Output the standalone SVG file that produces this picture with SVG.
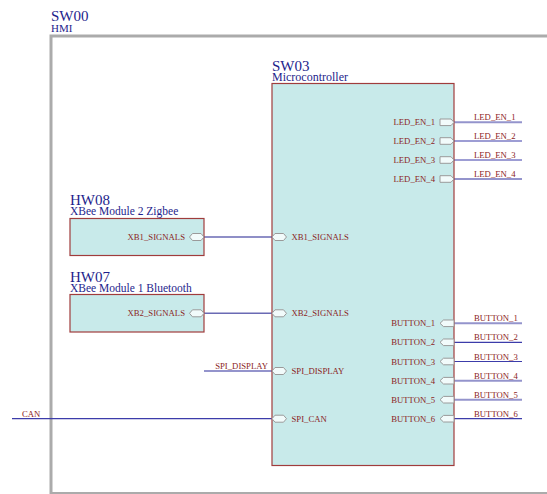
<svg xmlns="http://www.w3.org/2000/svg" width="547" height="494" viewBox="0 0 547 494">
<style>
text{font-family:"Liberation Serif","Times New Roman",serif}
.t{font-size:15px;fill:#1e1e8c}
.st{font-size:11.5px;fill:#1e1e8c}
.p{font-size:8.7px;fill:#8b2323}
.box{fill:#c8eaea;stroke:#a03c3c;stroke-width:1.2}
.port{fill:#f2fbfb;stroke:#9a9a9a;stroke-width:1}
.w{stroke:#3c3caa;stroke-width:1.2;fill:none}
.wl{stroke:#9494cc;stroke-width:2;fill:none}
.wm{stroke:#6a6ab4;stroke-width:1.4;fill:none}
</style>
<defs>
<polygon id="hex" points="0,0 3,-3.5 11.5,-3.5 14.5,0 11.5,3.5 3,3.5" class="port"/>
<polygon id="out" points="0,-3.3 11,-3.3 14,0 11,3.3 0,3.3" class="port"/>
<polygon id="in" points="0,0 3.5,-3.3 14,-3.3 14,3.3 3.5,3.3" class="port"/>
</defs>
<rect width="547" height="494" fill="#ffffff"/>
<g id="SW00">
<rect x="51" y="36" width="520" height="457.5" fill="none" stroke="#ababab" stroke-width="3"/>
<text x="51" y="21" class="t">SW00</text>
<text x="51" y="32.3" class="st" style="font-size:11px">HMI</text>
</g>
<g id="connectors">
<line x1="454" y1="122.3" x2="522" y2="122.3" class="wl"/>
<line x1="454" y1="141" x2="522" y2="141" class="w"/>
<line x1="454" y1="160" x2="522" y2="160" class="w"/>
<line x1="454" y1="179" x2="522" y2="179" class="wl"/>
<line x1="454" y1="323.3" x2="522" y2="323.3" class="wl"/>
<line x1="454" y1="342.3" x2="522" y2="342.3" class="w"/>
<line x1="454" y1="361.5" x2="522" y2="361.5" class="w"/>
<line x1="454" y1="380.7" x2="522" y2="380.7" class="wl"/>
<line x1="454" y1="399.7" x2="522" y2="399.7" class="wl"/>
<line x1="454" y1="418.7" x2="522" y2="418.7" class="w"/>
<line x1="204" y1="237" x2="272" y2="237" class="wm"/>
<line x1="204" y1="313.3" x2="272" y2="313.3" class="wm"/>
<line x1="204" y1="371" x2="272" y2="371" class="wl"/>
<line x1="12" y1="418.7" x2="272" y2="418.7" class="w"/>
<text x="474" y="120" class="p">LED_EN_1</text>
<text x="474" y="139" class="p">LED_EN_2</text>
<text x="474" y="158" class="p">LED_EN_3</text>
<text x="474" y="177" class="p">LED_EN_4</text>
<text x="474" y="321.3" class="p">BUTTON_1</text>
<text x="474" y="340.3" class="p">BUTTON_2</text>
<text x="474" y="359.5" class="p">BUTTON_3</text>
<text x="474" y="378.7" class="p">BUTTON_4</text>
<text x="474" y="397.7" class="p">BUTTON_5</text>
<text x="474" y="416.7" class="p">BUTTON_6</text>
<text x="268" y="369" class="p" text-anchor="end">SPI_DISPLAY</text>
<text x="22" y="416.7" class="p">CAN</text>
</g>
<g id="SW03">
<rect x="272" y="83.5" width="182" height="382" class="box"/>
<text x="272" y="70.5" class="t">SW03</text>
<text x="272" y="80.5" class="st" style="font-size:12px">Microcontroller</text>
<use href="#out" x="440" y="122.3"/>
<use href="#out" x="440" y="141"/>
<use href="#out" x="440" y="160"/>
<use href="#out" x="440" y="179"/>
<text x="435" y="125.3" class="p" text-anchor="end">LED_EN_1</text>
<text x="435" y="144" class="p" text-anchor="end">LED_EN_2</text>
<text x="435" y="163" class="p" text-anchor="end">LED_EN_3</text>
<text x="435" y="182" class="p" text-anchor="end">LED_EN_4</text>
<use href="#in" x="440" y="323.3"/>
<use href="#in" x="440" y="342.3"/>
<use href="#in" x="440" y="361.5"/>
<use href="#in" x="440" y="380.7"/>
<use href="#in" x="440" y="399.7"/>
<use href="#in" x="440" y="418.7"/>
<text x="435" y="326.3" class="p" text-anchor="end">BUTTON_1</text>
<text x="435" y="345.3" class="p" text-anchor="end">BUTTON_2</text>
<text x="435" y="364.5" class="p" text-anchor="end">BUTTON_3</text>
<text x="435" y="383.7" class="p" text-anchor="end">BUTTON_4</text>
<text x="435" y="402.7" class="p" text-anchor="end">BUTTON_5</text>
<text x="435" y="421.7" class="p" text-anchor="end">BUTTON_6</text>
<use href="#hex" x="272" y="237"/>
<use href="#hex" x="272" y="313.3"/>
<use href="#hex" x="272" y="371"/>
<use href="#hex" x="272" y="418.7"/>
<text x="291.5" y="240" class="p">XB1_SIGNALS</text>
<text x="291.5" y="316.3" class="p">XB2_SIGNALS</text>
<text x="291.5" y="374" class="p">SPI_DISPLAY</text>
<text x="291.5" y="421.7" class="p">SPI_CAN</text>
</g>
<g id="HW08">
<rect x="70" y="218.5" width="134" height="37" class="box"/>
<text x="70" y="205" class="t">HW08</text>
<text x="70" y="215" class="st">XBee Module 2 Zigbee</text>
<use href="#hex" x="189.5" y="237"/>
<text x="185" y="240" class="p" text-anchor="end">XB1_SIGNALS</text>
</g>
<g id="HW07">
<rect x="70" y="294.5" width="134" height="37.5" class="box"/>
<text x="70" y="281.5" class="t">HW07</text>
<text x="70" y="291.5" class="st">XBee Module 1 Bluetooth</text>
<use href="#hex" x="189.5" y="313.3"/>
<text x="185" y="316.3" class="p" text-anchor="end">XB2_SIGNALS</text>
</g>
</svg>
